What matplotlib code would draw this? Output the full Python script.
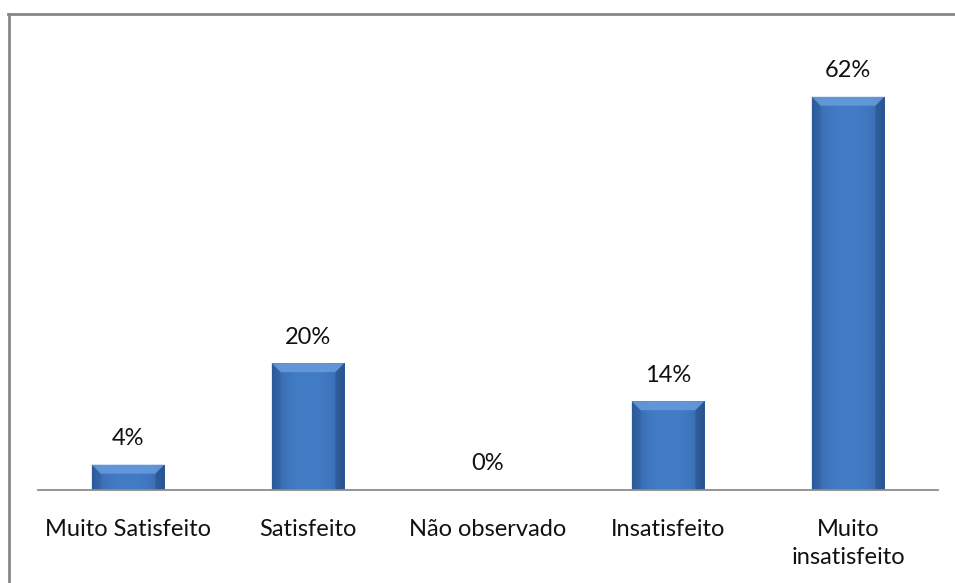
import numpy as np
import matplotlib
matplotlib.use("Agg")
from matplotlib import pyplot as plt
from matplotlib.patches import Polygon
from matplotlib.lines import Line2D

# Categorias e percentuais
categorias = ["Muito Satisfeito", "Satisfeito", "Não observado", "Insatisfeito", "Muito\ninsatisfeito"]
percentuais = [4, 20, 0, 14, 62]
rotulos = ["4%", "20%", "0%", "14%", "62%"]

plt.rcParams['font.family'] = ['Lato', 'DejaVu Sans']

fig = plt.figure(figsize=(9.55, 5.83), dpi=100)
ax = fig.add_axes([38 / 955, 93 / 583, 900 / 955, 444 / 583])

x = np.arange(len(categorias))
largura = 0.405
barras = ax.bar(x, percentuais, width=largura, color="#3a70b8", zorder=2)

ax.set_xlim(-0.5, len(categorias) - 0.5)
ax.set_ylim(0, 70)

# gradiente horizontal + chanfro para imitar o efeito do Excel
grad = np.linspace(0, 1, 64)
perfil = 1 - (2 * np.abs(grad - 0.5)) ** 3
cores = np.zeros((1, 64, 3))
escuro = np.array([0x2d, 0x5c, 0x9c]) / 255
claro = np.array([0x42, 0x7c, 0xc5]) / 255
for i, p in enumerate(perfil):
    cores[0, i] = escuro + (claro - escuro) * p

ppx = 70 / 444  # unidades de dados por pixel em y
ppx_x = 5 / 900  # unidades de dados por pixel em x
for b in barras:
    x0, y0 = b.get_x(), b.get_y()
    w, h = b.get_width(), b.get_height()
    if h <= 0:
        continue
    im = ax.imshow(cores, extent=[x0, x0 + w, y0, y0 + h], aspect="auto", zorder=3)
    im.set_clip_path(b)
    bx = 9 * ppx_x
    by = min(9 * ppx, h / 2)
    topo = Polygon([[x0, y0 + h], [x0 + w, y0 + h], [x0 + w - bx, y0 + h - by], [x0 + bx, y0 + h - by]],
                   closed=True, color="#6a9fe0", alpha=0.8, lw=0, zorder=4)
    ax.add_patch(topo)
    esq = Polygon([[x0, y0], [x0, y0 + h], [x0 + bx, y0 + h - by], [x0 + bx, y0]],
                  closed=True, color="#2a5590", alpha=0.3, lw=0, zorder=4)
    ax.add_patch(esq)
    dir_ = Polygon([[x0 + w, y0], [x0 + w, y0 + h], [x0 + w - bx, y0 + h - by], [x0 + w - bx, y0]],
                   closed=True, color="#1f4678", alpha=0.4, lw=0, zorder=4)
    ax.add_patch(dir_)

for xi, v, r in zip(x, percentuais, rotulos):
    ax.text(xi, v + 26 * ppx, r, ha="center", va="center", fontsize=17, color="#111111")

for s in ["top", "right", "left"]:
    ax.spines[s].set_visible(False)
ax.spines["bottom"].set_color("#8c8c8c")
ax.spines["bottom"].set_linewidth(1.3)
ax.spines["bottom"].set_zorder(5)
ax.set_yticks([])
ax.set_xticks(x)
ax.set_xticklabels(categorias, fontsize=17, color="#111111", linespacing=1.4)
ax.tick_params(axis="x", length=0, pad=21)
for lbl in ax.get_xticklabels():
    lbl.set_verticalalignment("top")

# moldura do gráfico (só aparecem topo e esquerda)
fig.add_artist(Line2D([8 / 955, 1], [1 - 14 / 583, 1 - 14 / 583], color="#878787", lw=2, transform=fig.transFigure))
fig.add_artist(Line2D([9 / 955, 9 / 955], [0, 1 - 14 / 583], color="#878787", lw=2, transform=fig.transFigure))

fig.savefig("out.png", dpi=100)
